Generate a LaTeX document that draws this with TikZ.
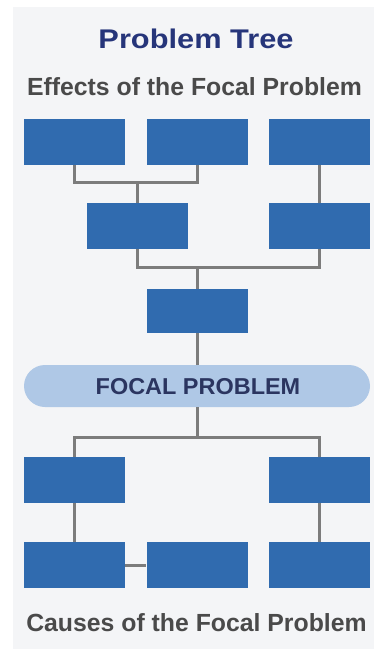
\documentclass[tikz,border=0pt]{standalone}
\usepackage{fontspec}
\setmainfont{Liberation Sans}
\newfontfamily\titlefont[FakeStretch=1.14]{Liberation Sans Bold}
\newfontfamily\focalfont[FakeStretch=1.02]{Liberation Sans Bold}
\newfontfamily\headfont{Liberation Sans Bold}
\definecolor{bgc}{HTML}{F4F5F7}
\definecolor{boxc}{HTML}{306BAF}
\definecolor{focalc}{HTML}{AFC8E6}
\definecolor{linec}{HTML}{7C7C7C}
\definecolor{titlec}{HTML}{26357A}
\definecolor{headc}{HTML}{4A4A4A}
\definecolor{focaltc}{HTML}{2B3560}
\tikzset{
  blk/.style={fill=boxc, draw=none, minimum width=101pt, minimum height=46pt, inner sep=0pt},
  conn/.style={draw=linec, line width=3pt},
  headtxt/.style={anchor=base, inner sep=0pt, text=headc, font=\headfont\fontsize{24.8}{28}\selectfont}
}
\begin{document}
\begin{tikzpicture}[x=1pt,y=-1pt]
\useasboundingbox (0,0) rectangle (374,649);
\fill[white] (0,0) rectangle (374,649);
\fill[bgc] (13,7) rectangle (374,649);
% texts
\node[anchor=base, inner sep=0pt, text=titlec, font=\titlefont\fontsize{27}{30}\selectfont] (title) at (196,48.5) {Problem Tree};
\node[headtxt] (effects) at (194.5,95) {Effects of the Focal Problem};
\node[headtxt] (causes) at (196.5,631) {Causes of the Focal Problem};
% effect boxes
\node[blk] (A) at (74.5,142) {};
\node[blk] (B) at (197,142) {};
\node[blk] (C) at (319.5,142) {};
\node[blk] (D) at (137,226) {};
\node[blk] (E) at (319.5,226) {};
\node[blk, minimum height=44pt] (F) at (197,311) {};
% focal problem
\node[fill=focalc, rounded corners=21pt, minimum width=346pt, minimum height=42pt, inner sep=0pt] (FP) at (197,386) {};
\node[anchor=base, inner sep=0pt, text=focaltc, font=\focalfont\fontsize{23}{26}\selectfont] (FPt) at (198,394) {FOCAL PROBLEM};
% cause boxes
\node[blk] (G) at (74.5,480) {};
\node[blk] (H) at (319.5,480) {};
\node[blk] (I) at (74.5,565) {};
\node[blk] (J) at (197,565) {};
\node[blk] (K) at (319.5,565) {};
% connectors
\draw[conn] (A.south) -- ++(0,17) -| (B.south);
\draw[conn] (D.north) -- ++(0,-21);
\draw[conn] (C.south) -- (E.north);
\draw[conn] (D.south) -- ++(0,18) -| (E.south);
\draw[conn] (F.north) -- ++(0,-22);
\draw[conn] (F.south) -- (FP.north);
\draw[conn] (FP.south) -- ++(0,31);
\draw[conn] (G.north) -- ++(0,-19) -| (H.north);
\draw[conn] (G.south) -- (I.north);
\draw[conn] (H.south) -- (K.north);
\draw[conn] (I.east) -- (J.west);
\end{tikzpicture}
\end{document}
